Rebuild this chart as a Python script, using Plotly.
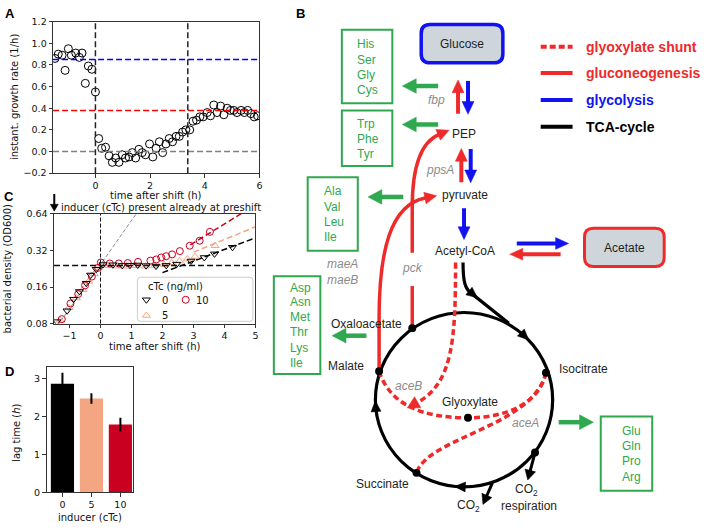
import math
import plotly.graph_objects as go

W, H = 709, 530

# ---------------- Panel A data: instantaneous growth rate ----------------
a_time = [-1.48, -1.36, -1.22, -1.11, -0.99, -0.88, -0.72, -0.59, -0.49, -0.37,
          -0.26, -0.13, 0.0, 0.12, 0.23, 0.37, 0.50, 0.62, 0.74, 0.86,
          0.98, 1.10, 1.23, 1.35, 1.47, 1.59, 1.71, 1.83, 1.98, 2.10,
          2.22, 2.34, 2.46, 2.58, 2.70, 2.82, 2.95, 3.07, 3.19, 3.31,
          3.45, 3.57, 3.70, 3.82, 3.94, 4.09, 4.21, 4.33, 4.45, 4.58,
          4.70, 4.82, 4.94, 5.06, 5.18, 5.33, 5.45, 5.57, 5.69, 5.81, 5.93]
a_rate = [0.86, 0.90, 0.89, 0.75, 0.95, 0.89, 0.91, 0.87, 0.91, 0.63,
          0.79, 0.76, 0.55, 0.12, 0.03, 0.04, -0.04, -0.10, -0.06, -0.10,
          -0.03, -0.06, -0.05, -0.01, -0.06, 0.02, -0.01, -0.03, 0.07, -0.05,
          0.03, 0.09, -0.01, 0.07, 0.12, 0.09, 0.14, 0.14, 0.18, 0.20,
          0.20, 0.28, 0.29, 0.32, 0.32, 0.36, 0.33, 0.43, 0.36, 0.42,
          0.34, 0.40, 0.38, 0.38, 0.36, 0.38, 0.36, 0.38, 0.35, 0.32, 0.33]
a_rate_preshift = 0.85
a_rate_postshift = 0.38
a_marks_time = [0.0, 3.38]

# ---------------- Panel C data: bacterial density ----------------
c_time_0 = [-1.41, -1.08, -0.87, -0.68, -0.46, -0.32, -0.14, 0.08, 0.40, 0.70,
            0.95, 1.2, 1.47, 1.79, 2.12, 2.46, 2.92, 3.35, 3.68, 4.26]
c_od_0 = [0.083, 0.102, 0.127, 0.147, 0.172, 0.201, 0.224, 0.245, 0.244, 0.241,
          0.242, 0.243, 0.240, 0.238, 0.241, 0.247, 0.262, 0.28, 0.30, 0.34]
c_time_5 = [-1.3, -1.02, -0.78, -0.57, -0.38, -0.2, -0.05, 0.25, 0.55, 0.85,
            1.15, 1.45, 1.75, 2.05, 2.3, 2.55, 2.8, 3.05, 3.7]
c_od_5 = [0.085, 0.108, 0.13, 0.152, 0.178, 0.205, 0.232, 0.240, 0.238, 0.237,
          0.239, 0.237, 0.240, 0.245, 0.253, 0.262, 0.272, 0.285, 0.35]
c_time_10 = [-1.25, -0.97, -0.72, -0.5, -0.28, -0.08, 0.01, 0.3, 0.59, 0.88,
             1.21, 1.61, 1.80, 1.96, 2.12, 2.31, 2.56, 2.88, 3.2, 3.53]
c_od_10 = [0.087, 0.117, 0.14, 0.165, 0.195, 0.23, 0.255, 0.25, 0.25, 0.252,
           0.258, 0.264, 0.27, 0.28, 0.287, 0.297, 0.316, 0.35, 0.385, 0.455]
c_lag_level = 0.24
c_pre_od_at_shift = 0.245
c_pre_rate = 0.835
c_pre_span = [-1.5, 1.3]
c_fit_start = [2.0, 3.0, 2.9]
c_fit_end = [5.0, 5.0, 4.7]
c_fit_od_start = [0.21, 0.31, 0.356]
c_fit_rate = [0.22, 0.24, 0.36]
c_legend_labels = ['0', '10', '5']

# ---------------- Panel D data: lag time ----------------
d_inducer = ['0', '5', '10']
d_lag = [2.87, 2.48, 1.79]
d_lag_err = [0.29, 0.14, 0.18]

COL0, COL5, COL10 = '#000000', '#f4a582', '#ca0020'
RED, BLUE, GREEN, GREY = '#ee2a2a', '#1212f0', '#2fa84f', '#8c8c8c'
BOXFILL = '#cfd6db'
AXC = '#333333'
MPL = 'DejaVu Sans'
SANS = 'Liberation Sans, Arial, sans-serif'

fig = go.Figure()

# ---- Panel A
fig.add_trace(go.Scatter(x=a_time, y=a_rate, mode='markers',
                         marker=dict(symbol='circle-open', size=8, color='black', line=dict(width=1)),
                         xaxis='x', yaxis='y'))

# ---- Panel C
pre_y = [c_pre_od_at_shift * math.exp(c_pre_rate * t) for t in c_pre_span]
fig.add_trace(go.Scatter(x=c_pre_span, y=pre_y, mode='lines',
                         line=dict(color='#8a8a8a', width=1, dash='4px,2px'), xaxis='x2', yaxis='y2'))
for col, x0, x1, y0, r in zip([COL0, COL5, COL10], c_fit_start, c_fit_end, c_fit_od_start, c_fit_rate):
    fig.add_trace(go.Scatter(x=[x0, x1], y=[y0, y0 * math.exp(r * (x1 - x0))], mode='lines',
                             line=dict(color=col, width=1.5, dash='6px,3px'), xaxis='x2', yaxis='y2'))
fig.add_trace(go.Scatter(x=c_time_5, y=c_od_5, mode='markers',
                         marker=dict(symbol='triangle-up-open', size=7, color=COL5, line=dict(width=1)),
                         xaxis='x2', yaxis='y2'))
fig.add_trace(go.Scatter(x=c_time_10, y=c_od_10, mode='markers',
                         marker=dict(symbol='circle-open', size=7, color=COL10, line=dict(width=1)),
                         xaxis='x2', yaxis='y2'))
fig.add_trace(go.Scatter(x=c_time_0, y=c_od_0, mode='markers',
                         marker=dict(symbol='triangle-down-open', size=7, color=COL0, line=dict(width=1)),
                         xaxis='x2', yaxis='y2'))

# ---- Panel D
fig.add_trace(go.Bar(x=d_inducer, y=d_lag, marker=dict(color=[COL0, COL5, COL10], line=dict(width=0)),
                     error_y=dict(type='data', array=d_lag_err, color='black', thickness=2, width=0),
                     xaxis='x3', yaxis='y3'))

# ---- overlay (pixel coordinates) : legend glyphs for C
fig.add_trace(go.Scatter(x=[147, 186.5, 147], y=[300, 300, 316], mode='markers',
                         marker=dict(symbol=['triangle-down-open', 'circle-open', 'triangle-up-open'],
                                     size=7, color=[COL0, COL10, COL5], line=dict(width=1)),
                         xaxis='x4', yaxis='y4', hoverinfo='skip'))

shapes = []
ann = []

# A reference lines
for yv, col in [(a_rate_preshift, '#0000ff'), (a_rate_postshift, '#ff0000'), (0.0, '#808080')]:
    shapes.append(dict(type='line', xref='x domain', yref='y', x0=0, x1=1, y0=yv, y1=yv,
                       line=dict(color=col, width=1.5, dash='6px,3px')))
for xv in a_marks_time:
    shapes.append(dict(type='line', xref='x', yref='y domain', x0=xv, x1=xv, y0=0, y1=1,
                       line=dict(color='#222222', width=1.5, dash='6px,3px')))
# C reference lines
shapes.append(dict(type='line', xref='x2 domain', yref='y2', x0=0, x1=1, y0=c_lag_level, y1=c_lag_level,
                   line=dict(color='#111111', width=1.5, dash='6px,3px')))
shapes.append(dict(type='line', xref='x2', yref='y2 domain', x0=0, x1=0, y0=0, y1=1,
                   line=dict(color='#111111', width=1, dash='4px,2px')))


def P(**kw):
    d = dict(xref='x4', yref='y4')
    d.update(kw)
    shapes.append(d)


def line(x0, y0, x1, y1, color, width, dash=None):
    P(type='line', x0=x0, y0=y0, x1=x1, y1=y1, line=dict(color=color, width=width, dash=dash))


def head(tx, ty, dx, dy, color, length=11, half=5.5):
    n = math.hypot(dx, dy)
    ux, uy = dx / n, dy / n
    bx, by = tx - ux * length, ty - uy * length
    nx, ny = -uy, ux
    path = (f"M{tx:.2f},{ty:.2f} L{bx + nx * half:.2f},{by + ny * half:.2f} "
            f"L{bx - nx * half:.2f},{by - ny * half:.2f} Z")
    P(type='path', path=path, fillcolor=color, line=dict(color=color, width=0.5))


def arrow(x0, y0, x1, y1, color, width=4, length=12, half=6):
    dx, dy = x1 - x0, y1 - y0
    n = math.hypot(dx, dy)
    ux, uy = dx / n, dy / n
    line(x0, y0, x1 - ux * length * 0.8, y1 - uy * length * 0.8, color, width)
    head(x1, y1, dx, dy, color, length, half)


def curve(path, color, width, dash=None):
    P(type='path', path=path, line=dict(color=color, width=width, dash=dash))


def rrect(x0, y0, x1, y1, r):
    return (f"M{x0 + r},{y0} L{x1 - r},{y0} Q{x1},{y0} {x1},{y0 + r} L{x1},{y1 - r} "
            f"Q{x1},{y1} {x1 - r},{y1} L{x0 + r},{y1} Q{x0},{y1} {x0},{y1 - r} "
            f"L{x0},{y0 + r} Q{x0},{y0} {x0 + r},{y0} Z")


def text(x, y, s, color='#231f20', size=12, family=SANS, xanchor='center', angle=0):
    ann.append(dict(xref='x4', yref='y4', x=x, y=y, text=s, showarrow=False, textangle=angle,
                    font=dict(color=color, size=size, family=family), xanchor=xanchor, yanchor='middle'))


# ---------- panel letters
for s, x, y in [('A', 10, 8), ('B', 302, 8), ('C', 9.5, 195), ('D', 10, 373.5)]:
    text(x, y, f'<b>{s}</b>', color='black', size=13)

# ---------- axis titles (matplotlib style)
text(157, 193.5, 'time after shift (h)', color='#111', size=10, family=MPL)
text(14, 93, 'instant. growth rate (1/h)', color='#111', size=10, family=MPL, angle=-90)
text(155.5, 348, 'time after shift (h)', color='#111', size=10, family=MPL)
text(7, 268, 'bacterial density (OD600)', color='#111', size=10, family=MPL, angle=-90)
text(90.5, 522.5, 'inducer (cTc)', color='#111', size=10, family=MPL)
text(17, 436, 'lag time (<i>h</i>)', color='#111', size=10, family=MPL, angle=-90)
text(59, 205.5, 'inducer (cTc) present already at preshift', color='#111', size=10, family=MPL, xanchor='left')
line(54.5, 192, 54.5, 203, 'black', 2)
head(54.5, 209.5, 0, 1, 'black', 7, 4)

# C legend
P(type='path', path=rrect(138, 277, 254, 322, 3), line=dict(color='#cccccc', width=1))
text(146.5, 286, 'cTc (ng/ml)', color='#111', size=10, family=MPL, xanchor='left')
text(160.5, 300.5, '0', color='#111', size=10, family=MPL, xanchor='left')
text(195, 300.5, '10', color='#111', size=10, family=MPL, xanchor='left')
text(160.5, 316.5, '5', color='#111', size=10, family=MPL, xanchor='left')

# ---------- Panel B: pathway legend
for y, col, dash, lab in [(41.7, RED, '6px,3px', 'glyoxylate shunt'), (68.3, RED, None, 'gluconeogenesis'),
                          (96, BLUE, None, 'glycolysis'), (123.3, 'black', None, 'TCA-cycle')]:
    line(543, y, 575, y, col, 4, dash)
    text(586.5, y, f'<b>{lab}</b>', color=col, size=14, xanchor='left')

# ---------- boxes
P(type='path', path=rrect(423, 19, 505, 58, 9), fillcolor=BOXFILL, line=dict(color=BLUE, width=3.5))
text(464, 38.5, 'Glucose')
P(type='path', path=rrect(587, 227, 667, 266, 9), fillcolor=BOXFILL, line=dict(color=RED, width=3))
text(627, 247, 'Acetate')

green_boxes = [((343.3, 24.3, 394, 99.3), 357, [39.3, 55, 70.7, 86], ['His', 'Ser', 'Gly', 'Cys']),
               ((343.3, 106.7, 394, 163.3), 356.5, [120.5, 136, 151.3], ['Trp', 'Phe', 'Tyr']),
               ((309, 175, 359.3, 250), 323, [189.3, 205, 220.7, 235.7], ['Ala', 'Val', 'Leu', 'Ile']),
               ((275, 276, 321.7, 375.7), 289, [287.7, 302.7, 317.7, 333.3, 349.3, 364.3],
                ['Asp', 'Asn', 'Met', 'Thr', 'Lys', 'Ile']),
               ((603.3, 419.3, 655, 495), 622.5, [434, 449.3, 465, 480.7], ['Glu', 'Gln', 'Pro', 'Arg'])]
for (x0, y0, x1, y1), tx, ys, labs in green_boxes:
    P(type='rect', x0=x0, y0=y0, x1=x1, y1=y1, line=dict(color=GREEN, width=2))
    for yy, lb in zip(ys, labs):
        text(tx, yy, lb, color=GREEN, size=12, xanchor='left')

# green arrows
for x0, y0, x1, y1 in [(440, 81.7, 404, 81.7), (440, 121, 404, 121), (405, 195, 369.5, 195),
                       (368, 336.7, 333.5, 336.7), (561, 425, 596, 425)]:
    arrow(x0, y0, x1, y1, GREEN, width=4.5, length=14, half=7.5)

# glycolysis / gluconeogenesis straight arrows
arrow(460, 110, 460, 75.5, RED, 4, 13, 6)
arrow(470, 76.5, 470, 110.5, BLUE, 4, 13, 6)
arrow(463.3, 180, 463.3, 145.5, RED, 4, 13, 6)
arrow(472.7, 146, 472.7, 180.5, BLUE, 4, 13, 6)
arrow(466, 206.5, 466, 238.5, BLUE, 4, 13, 6)
arrow(519, 242.5, 571, 242.5, BLUE, 4, 13, 6)
arrow(563, 253.5, 512, 253.5, RED, 4, 13, 6)

# TCA cycle
CX, CY, R = 466, 402, 89
P(type='circle', x0=CX - R, y0=CY - R, x1=CX + R, y1=CY + R, line=dict(color='black', width=3.2))
for th in [-46.4, 176, 93]:
    t = math.radians(th)
    px, py = CX + R * math.cos(t), CY + R * math.sin(t)
    dx, dy = -math.sin(t), math.cos(t)
    head(px + dx * 5, py + dy * 5, dx, dy, 'black', 11, 5)
curve('M465,262 C465,282 467,289 474,294 L511,324', 'black', 3.2)
head(479.5, 298, 37, 30, 'black', 11, 5)

# red gluconeogenesis curves
curve('M380.7,373 L380.7,320 C380.7,250 392,203 427,196', RED, 3.5)
head(438.5, 193.8, 35, -7, RED, 12, 6)
curve('M414,329 L414,286', RED, 3.5)
curve('M414,252 L414,205 C414,170 420,140 441,131', RED, 3.5)
head(451, 126.8, 21, -9, RED, 12, 6)

# red dashed glyoxylate shunt
DASH = '6px,3.5px'
curve('M457.5,262 C457.5,340 455,385 419,405', RED, 3.5, DASH)
head(409, 410.5, -36, 20, RED, 12, 6.5)
curve('M380.7,373 C392,408 425,420.5 470,420.5', RED, 3.5, DASH)
curve('M548.3,374.5 C542,405 510,420.5 470,420.5', RED, 3.5, DASH)
curve('M548.3,374.5 C535,430 430,440 418.3,476.7', RED, 3.5, DASH)

# CO2 arrows
arrow(537.3, 456, 530, 484, 'black', 3, 10, 5.5)
arrow(494.5, 487, 485, 509, 'black', 3, 10, 5.5)

# nodes
for nx_, ny_ in [(414, 329), (380.7, 373), (548.3, 374.5), (418.3, 476.7), (537.3, 456), (470, 420.5)]:
    P(type='circle', x0=nx_ - 4, y0=ny_ - 4, x1=nx_ + 4, y1=ny_ + 4, fillcolor='black',
      line=dict(color='black', width=0))

# labels
for s, x, y in [('PEP', 466, 130.7), ('pyruvate', 466.7, 193.3), ('Acetyl-CoA', 467.3, 250),
                ('Oxaloacetate', 368.3, 325), ('Malate', 347.7, 367.7), ('Isocitrate', 586, 371),
                ('Glyoxylate', 471.7, 404.3), ('Succinate', 384.3, 488.3),
                ('CO<sub>2</sub>', 528.3, 494), ('respiration', 531.7, 511), ('CO<sub>2</sub>', 470.7, 511)]:
    text(x, y, s)
for s, x, y in [('fbp', 438.3, 96), ('ppsA', 442, 167.3), ('pck', 414, 267.3), ('maeA', 344, 263.3),
                ('maeB', 344, 279.3), ('aceB', 410, 388.3), ('aceA', 527.3, 425.7)]:
    text(x, y, f'<i>{s}</i>', color=GREY, size=12)

axis_common = dict(showline=True, mirror=True, linecolor=AXC, linewidth=1, ticks='outside', ticklen=3.5,
                   tickwidth=1, tickcolor=AXC, showgrid=False, zeroline=False,
                   tickfont=dict(family=MPL, size=9.5, color='#111'))

fig.update_layout(
    width=W, height=H, margin=dict(l=0, r=0, t=0, b=0),
    paper_bgcolor='white', plot_bgcolor='rgba(0,0,0,0)', showlegend=False,
    xaxis=dict(domain=[53.3 / W, 260.5 / W], range=[-1.55, 6], tickvals=[0, 2, 4, 6], anchor='y', **axis_common),
    yaxis=dict(domain=[1 - 170.7 / H, 1 - 16 / H], range=[-0.2, 1.2],
               tickvals=[-0.2, 0, 0.2, 0.4, 0.6, 0.8, 1.0, 1.2], tickformat='.1f', anchor='x', **axis_common),
    xaxis2=dict(domain=[54.3 / W, 256.5 / W], range=[-1.5, 5], tickvals=[-1, 0, 1, 2, 3, 4, 5],
                anchor='y2', **axis_common),
    yaxis2=dict(domain=[1 - 324.3 / H, 1 - 212.3 / H], type='log',
                range=[math.log10(0.08), math.log10(0.64)], tickvals=[0.08, 0.16, 0.32, 0.64],
                ticktext=['0.08', '0.16', '0.32', '0.64'], anchor='x2', **axis_common),
    xaxis3=dict(domain=[46.7 / W, 134 / W], type='category', range=[-0.55, 2.45], anchor='y3', **axis_common),
    yaxis3=dict(domain=[1 - 496.7 / H, 1 - 368.3 / H], range=[0, 3.32], tickvals=[0, 1, 2, 3],
                anchor='x3', **axis_common),
    xaxis4=dict(domain=[0, 1], range=[0, W], visible=False, anchor='y4'),
    yaxis4=dict(domain=[0, 1], range=[H, 0], visible=False, anchor='x4'),
    bargap=0.2,
    shapes=shapes, annotations=ann,
)

fig.write_html("out.html", config={'displayModeBar': False, 'staticPlot': True},
               post_script="document.body.style.margin='0px';document.body.style.overflow='hidden';")
